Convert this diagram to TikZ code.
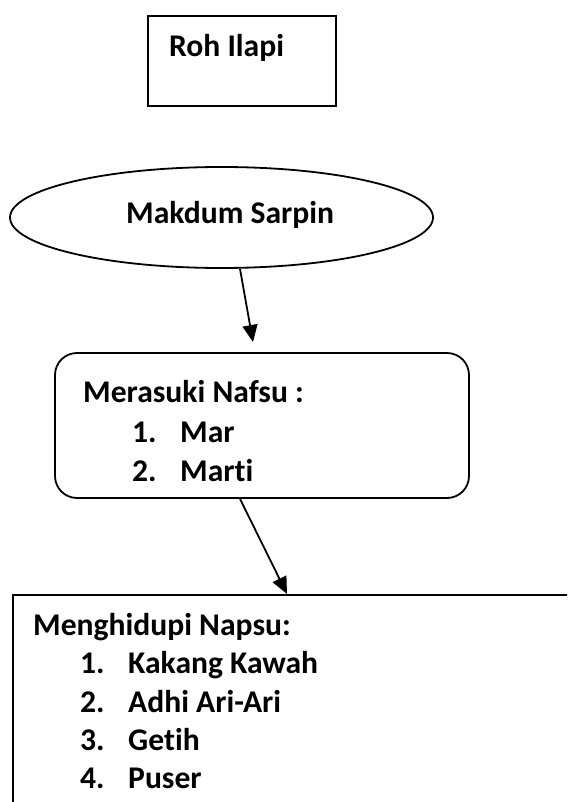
\documentclass[tikz,border=0pt]{standalone}
\usepackage{fontspec}
\setmainfont{Carlito}[Ligatures=NoCommon]
\usetikzlibrary{shapes.geometric,arrows.meta}
\tikzset{
  shp/.style={draw=black, line width=1.8pt, inner sep=0pt, fill=none},
  txt/.style={anchor=base west, inner sep=0pt, font=\fontsize{31.6}{38.6}\selectfont\bfseries},
  arr/.style={line width=1.8pt, -{Triangle[length=17pt,width=15pt]}}
}
\begin{document}
\begin{tikzpicture}[x=1pt,y=-1pt]
\clip (0,0) rectangle (567,802);
\useasboundingbox (0,0) rectangle (567,802);
% shapes
\node[shp, rectangle, minimum width=188pt, minimum height=90pt] (roh) at (242,61) {};
\node[shp, ellipse, minimum width=423pt, minimum height=101pt] (ell) at (221.5,217.5) {};
\node[shp, rectangle, rounded corners=22pt, minimum width=414pt, minimum height=145pt] (mer) at (262,425.5) {};
\node[shp, rectangle, anchor=north west, minimum width=620pt, minimum height=260pt] (mng) at (12,594) {};
% texts
\node[txt] (tRoh) at (169,57) {Roh Ilapi};
\node[txt] (tMak) at (126,224) {Makdum Sarpin};
\node[txt] (tMer) at (83,402) {Merasuki Nafsu :};
\node[txt] (n1a) at (132,442) {1.};
\node[txt] (i1a) at (180,442) {Mar};
\node[txt] (n2a) at (132,481) {2.};
\node[txt] (i2a) at (180,481) {Marti};
\node[txt] (tMng) at (33,635) {Menghidupi Napsu:};
\node[txt] (n1b) at (80,673) {1.};
\node[txt] (i1b) at (128,673) {Kakang Kawah};
\node[txt] (n2b) at (80,712) {2.};
\node[txt] (i2b) at (128,712) {Adhi Ari-Ari};
\node[txt] (n3b) at (80,750) {3.};
\node[txt] (i3b) at (128,750) {Getih};
\node[txt] (n4b) at (80,788) {4.};
\node[txt] (i4b) at (128,788) {Puser};
% connectors
\coordinate (a1e) at (253,342);
\draw[arr] ([xshift=18.5pt]ell.south) -- (a1e);
\draw[arr] ([xshift=-22pt]mer.south) -- ([xshift=275pt]mng.north west);
\end{tikzpicture}
\end{document}
